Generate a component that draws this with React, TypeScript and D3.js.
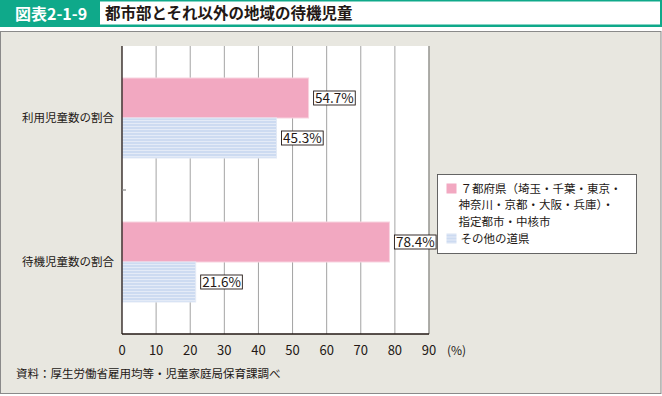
import * as d3 from "d3";
import { useEffect, useRef } from "react";

// categories and values
const categories = ["利用児童数の割合", "待機児童数の割合"];
const seriesNames = ["urban", "other"];
const urbanValues = [54.7, 78.4];
const otherValues = [45.3, 21.6];
const xTicks = [0, 10, 20, 30, 40, 50, 60, 70, 80, 90];
const legendLines = [
  ["７都府県（埼玉・千葉・東京・", "神奈川・京都・大阪・兵庫）・", "指定都市・中核市"],
  ["その他の道県"],
];

const FONT = "'Noto Sans CJK JP', 'Noto Sans', sans-serif";
const PINK = "#f2a8c1";

const App = () => {
  const ref: any = useRef();

  useEffect(() => {
    const svg = d3.select(ref.current);
    svg.selectAll("*").remove();

    const W = 662, H = 396;
    const margin = { top: 46, left: 122, right: 233, bottom: 62 };
    const plotW = W - margin.left - margin.right;
    const plotH = H - margin.top - margin.bottom;

    // pattern for the striped blue bars
    const defs = svg.append("defs");
    const pat = defs.append("pattern")
      .attr("id", "blueStripe")
      .attr("patternUnits", "userSpaceOnUse")
      .attr("width", 6).attr("height", 3);
    pat.append("rect").attr("width", 6).attr("height", 3).attr("fill", "#cddbf1");
    pat.append("rect").attr("y", 2).attr("width", 6).attr("height", 1).attr("fill", "#e4ebf7");

    // header
    svg.append("rect").attr("x", 0).attr("y", 0).attr("width", W).attr("height", 27).attr("fill", "#0fa98a");
    svg.append("rect").attr("x", 100).attr("y", 1.5).attr("width", W - 102).attr("height", 23).attr("fill", "#fff");
    svg.append("text").attr("x", 15).attr("y", 19.5).attr("fill", "#fff")
      .attr("font-family", FONT).attr("font-weight", "bold").attr("font-size", 16)
      .text("図表2-1-9");
    svg.append("text").attr("x", 105).attr("y", 19).attr("fill", "#231815")
      .attr("font-family", FONT).attr("font-weight", "bold").attr("font-size", 15.5)
      .text("都市部とそれ以外の地域の待機児童");

    // panel
    svg.append("rect").attr("x", 0.5).attr("y", 31.5).attr("width", W - 1.5).attr("height", H - 34)
      .attr("fill", "#e8e7e0").attr("stroke", "#8a8a8a");

    const g = svg.append("g").attr("transform", `translate(${margin.left}, ${margin.top})`);

    const x = d3.scaleLinear().domain([0, 90]).range([0, plotW]);
    const y = d3.scaleBand().domain(categories).range([0, plotH]).paddingInner(64 / 144).paddingOuter(32 / 144);
    const ySub = d3.scaleBand().domain(seriesNames).range([0, y.bandwidth()]);

    g.append("rect").attr("width", plotW).attr("height", plotH).attr("fill", "#fff");

    // grid
    g.selectAll(".grid").data(xTicks.slice(1)).enter().append("line")
      .attr("x1", (d: any) => x(d)).attr("x2", (d: any) => x(d))
      .attr("y1", 0).attr("y2", plotH)
      .attr("stroke", (d: any) => d === 90 ? "#9a9a95" : "#8c8c8c")
      .attr("stroke-width", (d: any) => d === 90 ? 1.6 : 0.8);

    // bars
    categories.forEach((c, i) => {
      const rows = [
        { key: "urban", v: urbanValues[i], fill: PINK, stroke: "#f8d3df" },
        { key: "other", v: otherValues[i], fill: "url(#blueStripe)", stroke: "#e3eaf6" },
      ];
      rows.forEach((r) => {
        const by = (y(c) as number) + (ySub(r.key) as number);
        const bh = ySub.bandwidth();
        g.append("rect").attr("x", 0).attr("y", by).attr("width", x(r.v)).attr("height", bh)
          .attr("fill", r.fill).attr("stroke", r.stroke).attr("stroke-width", 1);

        const lg = g.append("g").attr("transform", `translate(${x(r.v) + 5}, ${by + bh / 2})`);
        const box = lg.append("rect");
        const t = lg.append("text").attr("x", 1.5).attr("y", 5).attr("font-family", FONT)
          .attr("font-size", 13.5).attr("fill", "#231815")
          .text(`${r.v}%`);
        const bb = (t.node() as any).getBBox();
        box.attr("x", 0).attr("y", -7).attr("width", bb.width + 3).attr("height", 14)
          .attr("fill", "#fff").attr("stroke", "#231815").attr("stroke-width", 0.9);
      });
    });

    // axes
    g.append("line").attr("x1", 0).attr("x2", 0).attr("y1", 0).attr("y2", plotH).attr("stroke", "#231815").attr("stroke-width", 1.3);
    g.append("line").attr("x1", 0).attr("x2", plotW).attr("y1", plotH).attr("y2", plotH).attr("stroke", "#231815").attr("stroke-width", 1.3);
    g.append("line").attr("x1", 0).attr("x2", 4).attr("y1", plotH / 2).attr("y2", plotH / 2).attr("stroke", "#888").attr("stroke-width", 1.2);

    g.selectAll(".xt").data(xTicks).enter().append("text")
      .attr("x", (d: any) => x(d)).attr("y", plotH + 21)
      .attr("text-anchor", "middle").attr("font-family", FONT).attr("font-size", 13).attr("fill", "#231815")
      .text((d: any) => d);
    g.append("text").attr("x", plotW + 18).attr("y", plotH + 21).attr("font-family", FONT)
      .attr("font-size", 12).attr("fill", "#231815").text("(%)");

    g.selectAll(".yt").data(categories).enter().append("text")
      .attr("x", -8).attr("y", (d: any) => (y(d) as number) + y.bandwidth() / 2 + 4)
      .attr("text-anchor", "end").attr("font-family", FONT).attr("font-size", 11.5).attr("fill", "#231815")
      .text((d: any) => d);

    // legend
    const leg = svg.append("g").attr("transform", "translate(437.5, 174.5)");
    leg.append("rect").attr("width", 199).attr("height", 79).attr("fill", "#fff").attr("stroke", "#555").attr("stroke-width", 0.9);
    const swatches = [PINK, "url(#blueStripe)"];
    const itemY = [18, 68];
    legendLines.forEach((lines, i) => {
      leg.append("rect").attr("x", 9).attr("y", itemY[i] - 9).attr("width", 10).attr("height", 10).attr("fill", swatches[i]);
      lines.forEach((line, j) => {
        leg.append("text").attr("x", j === 0 ? 23 : 21).attr("y", itemY[i] + j * 16.5)
          .attr("font-family", FONT).attr("font-size", 11.5).attr("fill", "#231815").text(line);
      });
    });

    // source
    svg.append("text").attr("x", 16).attr("y", 378).attr("font-family", FONT).attr("font-size", 11.5)
      .attr("fill", "#231815").text("資料：厚生労働省雇用均等・児童家庭局保育課調べ");
  }, []);

  return (
    <svg ref={ref} width={662} height={396} style={{ position: "absolute", left: 0, top: 0 }} />
  );
};

export default App;
